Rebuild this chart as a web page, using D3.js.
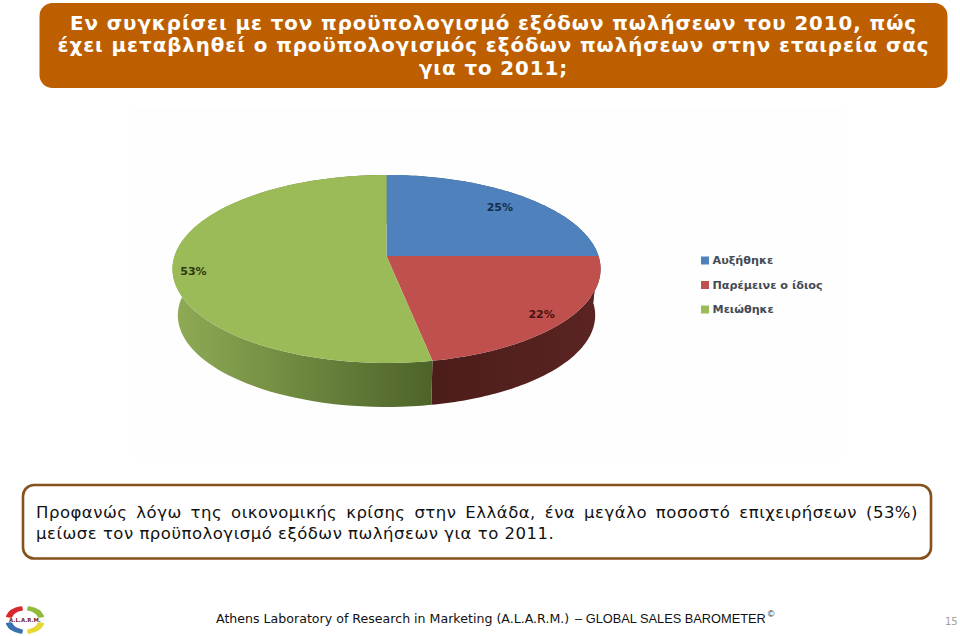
<!DOCTYPE html>
<html><head><meta charset="utf-8">
<script src="https://cdn.jsdelivr.net/npm/d3@7"></script>
<style>html,body{margin:0;padding:0;background:#fff}svg{display:block}text{font-family:"DejaVu Sans",Verdana,sans-serif}</style>
</head><body><svg id="c" width="960" height="636"></svg>
<script>
const categories=["Αυξήθηκε","Παρέμεινε ο ίδιος","Μειώθηκε"];
const values=[25,22,53];
const labels=["25%","22%","53%"];
const topColors=["#4f81bd","#c0504d","#9bbb59"];
const wallLeft=["#3a5f8c","#5a2422","#8fab55"];
const wallRight=["#2a4566","#4c1d1b","#4d6329"];
const labelColors=["#10253f","#3b0d0b","#1d2b0a"];
const titleLines=["Εν συγκρίσει με τον προϋπολογισμό εξόδων πωλήσεων του 2010, πώς","έχει μεταβληθεί ο προϋπολογισμός εξόδων πωλήσεων στην εταιρεία σας","για το 2011;"];
const bodyLines=["Προφανώς λόγω της οικονομικής κρίσης στην Ελλάδα, ένα μεγάλο ποσοστό επιχειρήσεων (53%)","μείωσε τον προϋπολογισμό εξόδων πωλήσεων για το 2011."];
const footerLeft="Athens Laboratory of Research in Marketing (A.L.A.R.M.)";
const footerRight="– GLOBAL SALES BAROMETER";
const pageNo="15";

const svg=d3.select("#c");
const defs=svg.append("defs");
svg.append("rect").attr("x",39.5).attr("y",3).attr("width",908).attr("height",85).attr("rx",13).attr("fill","#bd5f00");
svg.append("g").selectAll("text").data(titleLines).join("text")
 .attr("x",493.5).attr("y",(d,i)=>30+i*22.3).attr("text-anchor","middle")
 .attr("fill","#fff").attr("font-weight","bold").attr("font-size",19.8).attr("letter-spacing",0.95).text(d=>d);
svg.append("rect").attr("x",130).attr("y",108).attr("width",716).attr("height",350).attr("fill","#fefefe");
const cx=386.5,cy=256,a=212,b=92.2,k=0.138,wallS=0.975,wallDy=46.7;
const proj=(ang,s,dy)=>{const u=Math.sin(ang),v=-Math.cos(ang),w=1-k*v;return [cx+a*s*u/w,cy+dy+b*s*v/w];};
const arcs=d3.pie().sort(null)(values);
const samp=d=>d3.range(0,81).map(i=>d.startAngle+(d.endAngle-d.startAngle)*i/80);
const line=d3.line();
arcs.forEach((d,i)=>{
 const g=defs.append("linearGradient").attr("id","w"+i).attr("gradientUnits","userSpaceOnUse")
  .attr("x1",i==2?173:432).attr("x2",i==2?432:600).attr("y1",0).attr("y2",0);
 g.append("stop").attr("offset",0).attr("stop-color",i==1?wallRight[i]:wallLeft[i]);
 g.append("stop").attr("offset",1).attr("stop-color",i==1?wallLeft[i]:wallRight[i]);
});
const walls=svg.append("g"),tops=svg.append("g");
arcs.forEach((d,i)=>{
 const angs=samp(d);
 const pts=angs.map(t=>proj(t,1,0)).concat(angs.slice().reverse().map(t=>proj(t,wallS,wallDy)));
 walls.append("path").attr("d",line(pts)+"Z").attr("fill",`url(#w${i})`);
});
arcs.forEach((d,i)=>{
 const pts=[[cx,cy]].concat(samp(d).map(t=>proj(t,1,0)));
 tops.append("path").attr("d",line(pts)+"Z").attr("fill",topColors[i]);
});
const labelR=[0.83,0.88,0.903],labelF=[0.5,0.516,0.473];
arcs.forEach((d,i)=>{
 const m=d.startAngle+(d.endAngle-d.startAngle)*labelF[i],p=proj(m,labelR[i],0);
 svg.append("text").attr("x",p[0]).attr("y",p[1]).attr("text-anchor","middle").attr("dy","0.35em")
  .attr("font-size",11).attr("font-weight","bold").attr("fill",labelColors[i]).attr("opacity",0.9).text(labels[i]);
});
const ly=d3.scalePoint().domain(categories).range([260.5,309.5]);
const lg=svg.append("g").selectAll("g").data(categories).join("g").attr("transform",d=>`translate(701,${ly(d)})`);
lg.append("rect").attr("x",0).attr("y",-4).attr("width",8).attr("height",8).attr("fill",(d,i)=>topColors[i]);
lg.append("text").attr("x",11.5).attr("y",0).attr("dy","0.35em").attr("font-size",11.2).attr("font-weight","bold").attr("fill","#454b55").text(d=>d);
svg.append("rect").attr("x",23).attr("y",485).attr("width",908).attr("height",73.5).attr("rx",11).attr("fill","#fff").attr("stroke","#85521c").attr("stroke-width",2.6);
const bt=svg.append("g").selectAll("text").data(bodyLines).join("text").attr("x",36).attr("y",(d,i)=>518+i*21)
 .attr("font-size",16.5).attr("letter-spacing",0.5).attr("fill","#111").text(d=>d);
bt.each(function(d,i){ if(i==0){const w=this.getComputedTextLength();const n=d.split(" ").length-1;d3.select(this).attr("word-spacing",(882-w)/n);}});
const ft=svg.append("text").attr("x",216).attr("y",623).attr("font-size",12.6).attr("fill","#111").text(footerLeft+" ");
ft.append("tspan").attr("x",575).attr("font-family","Liberation Sans").attr("font-size",12.8).text(footerRight);
ft.append("tspan").attr("dy",-6).attr("dx",2).attr("font-family","Liberation Sans").attr("font-size",9).text("©");
svg.append("text").attr("x",945).attr("y",625).attr("font-size",10).attr("fill","#a0a0a0").text(pageNo);
const logo=svg.append("g").attr("transform","translate(25,620)");
const arcL=d3.arc().innerRadius(9.5).outerRadius(14).cornerRadius(1);
[["#d8282f",-78,-8],["#8dbb3c",8,78],["#e8d832",102,172],["#3a6fb0",188,258]].forEach(s=>{
 logo.append("path").attr("transform","scale(1.42,1)").attr("d",arcL({startAngle:s[1]*Math.PI/180,endAngle:s[2]*Math.PI/180})).attr("fill",s[0]);
});
logo.append("text").attr("text-anchor","middle").attr("y",2).attr("font-size",5.4).attr("font-weight","bold").attr("fill","#7a1d1d").text("A.L.A.R.M.");
</script></body></html>
